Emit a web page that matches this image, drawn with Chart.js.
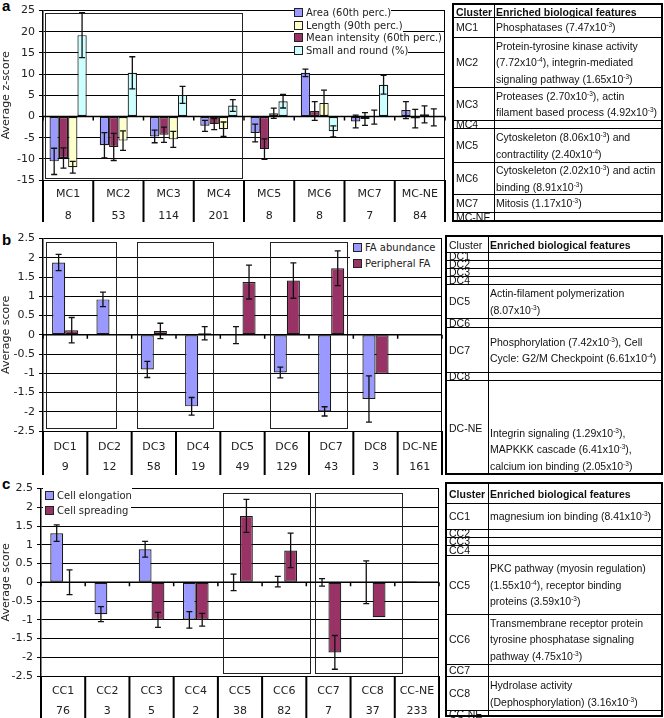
<!DOCTYPE html>
<html>
<head>
<meta charset="utf-8">
<script src="https://cdn.jsdelivr.net/npm/chart.js@4.4.1/dist/chart.umd.min.js"></script>
<style>
  body { margin: 0; width: 664px; height: 718px; position: relative; overflow: hidden; background: #fff; }
  canvas { position: absolute; left: 0; }
  .tag { position: absolute; left: 2px; font: bold 15px "Liberation Sans", Arial, sans-serif; line-height: 15px; }
  .legend { position: absolute; font: 10px "DejaVu Sans", sans-serif; color: #222; }
  .legend .row { display: flex; align-items: center; white-space: nowrap; }
  .legend .sw { width: 7px; height: 7px; border: 1px solid #222; margin-right: 3px; }
  .tbl { position: absolute; box-sizing: border-box; border: 2px solid #000; font: 10.5px "Liberation Sans", Arial, sans-serif; color: #111; }
  .tbl .r { position: absolute; left: 0; right: 0; box-sizing: border-box; }
  .tbl .c1, .tbl .c2 { position: absolute; top: 0; bottom: 0; display: flex; align-items: center; white-space: nowrap; padding-left: 2px; box-sizing: border-box; }
  .tbl .c2 { right: 0; border-left: 1.5px solid #000; padding-left: 1px; }
  .tbl .low { align-items: flex-end; padding-bottom: 1px; }
  .tbl sup { font-size: 6.5px; line-height: 0; vertical-align: 4px; }
</style>
</head>
<body>
<div class="tag" style="top:-2px">a</div>
<div class="tag" style="top:232px">b</div>
<div class="tag" style="top:476px">c</div>
<canvas id="chartA" width="450" height="226" style="top:0"></canvas>
<canvas id="chartB" width="450" height="250" style="top:228px"></canvas>
<canvas id="chartC" width="450" height="240" style="top:478px"></canvas>
<script>
// ---------- panel a : morphology clusters ----------
const clustersA = ['MC1', 'MC2', 'MC3', 'MC4', 'MC5', 'MC6', 'MC7', 'MC-NE'];
const countsA = ['8', '53', '114', '201', '8', '8', '7', '84'];
const areaA = [-10.6, -6.8, -4.7, -2.2, -3.9, 10.3, -1.2, 1.5];
const areaErrA = [3.1, 3.0, 1.5, 1.3, 2.1, 0.9, 1.5, 2.0];
const lengthA = [-12.0, -5.7, -5.4, -3.0, 0.75, 3.2, -0.15, 0.5];
const lengthErrA = [1.4, 2.3, 1.9, 1.7, 1.2, 3.0, 1.65, 2.0];
const intensityA = [-9.8, -7.2, -4.3, -1.8, -7.7, 1.3, -0.6, -0.5];
const intensityErrA = [2.4, 3.2, 1.8, 1.3, 2.4, 2.2, 1.5, 2.2];
const roundA = [19.2, 10.3, 5.1, 2.6, 3.6, -3.5, 7.5, -0.2];
const roundErrA = [5.3, 3.8, 2.0, 1.4, 1.6, 1.3, 2.2, 2.0];

// ---------- panel b : focal adhesion clusters ----------
const clustersB = ['DC1', 'DC2', 'DC3', 'DC4', 'DC5', 'DC6', 'DC7', 'DC8', 'DC-NE'];
const countsB = ['9', '12', '58', '19', '49', '129', '43', '3', '161'];
const faB = [1.88, 0.92, -0.9, -1.86, -0.01, -0.98, -1.99, -1.67, 0];
const faErrB = [0.21, 0.19, 0.21, 0.23, 0.22, 0.14, 0.12, 0.6, 0];
const periB = [0.12, null, 0.1, 0.04, 1.37, 1.41, 1.73, -1.01, 0.02];
const periErrB = [0.33, 0, 0.2, 0.17, 0.44, 0.46, 0.45, 0, 0];

// ---------- panel c : cell shape clusters ----------
const clustersC = ['CC1', 'CC2', 'CC3', 'CC4', 'CC5', 'CC6', 'CC7', 'CC8', 'CC-NE'];
const countsC = ['76', '3', '5', '2', '38', '82', '7', '37', '233'];
const elongC = [1.31, -0.85, 0.88, -1.0, 0, 0.02, 0, 0, 0.03];
const elongErrC = [0.22, 0.2, 0.21, 0.22, 0.22, 0.14, 0.1, 0.57, 0];
const spreadC = [0, null, -1.0, -1.0, 1.77, 0.85, -1.87, -0.93, 0];
const spreadErrC = [0.33, 0, 0.2, 0.17, 0.44, 0.46, 0.45, 0, 0];

// enriched features tables (^-n marks the exponent)
const featuresA = [
  'Phosphatases (7.47x10^-3)',
  'Protein-tyrosine kinase activity\n(7.72x10^-4), integrin-mediated\nsignaling pathway (1.65x10^-3)',
  'Proteases (2.70x10^-3), actin\nfilament based process (4.92x10^-3)',
  '',
  'Cytoskeleton (8.06x10^-3) and\ncontractility (2.40x10^-4)',
  'Cytoskeleton (2.02x10^-3) and actin\nbinding (8.91x10^-3)',
  'Mitosis (1.17x10^-3)',
  ''
];
const featuresB = [
  '', '', '', '',
  'Actin-filament polymerization\n(8.07x10^-3)',
  '',
  'Phosphorylation (7.42x10^-3), Cell\nCycle: G2/M Checkpoint (6.61x10^-4)',
  '',
  'Integrin signaling (1.29x10^-3),\nMAPKKK cascade (6.41x10^-3),\ncalcium ion binding (2.05x10^-3)'
];
const featuresC = [
  'magnesium ion binding (8.41x10^-3)',
  '', '', '',
  'PKC pathway (myosin regulation)\n(1.55x10^-4), receptor binding\nproteins (3.59x10^-3)',
  'Transmembrane receptor protein\ntyrosine phosphatase signaling\npathway (4.75x10^-3)',
  '',
  'Hydrolase activity\n(Dephosphorylation) (3.16x10^-3)',
  ''
];

const BLUE = '#9999FF', YELLOW = '#FFFFCC', PLUM = '#993366', CYAN = '#CCFFFF';

// boxes, error bars, zero axis and the category table lines
const frame = {
  id: 'frame',
  beforeDatasetsDraw(chart, args, o) {
    const { ctx, scales: { x, y } } = chart;
    ctx.save();
    ctx.strokeStyle = '#222';
    ctx.lineWidth = 1;
    (o.boxes || []).forEach(b => {
      const l = Math.round(x.getPixelForValue(b[0])) + 0.5, r = Math.round(x.getPixelForValue(b[1])) + 0.5;
      const t = Math.round(y.getPixelForValue(b[2])) + 0.5, bt = Math.round(y.getPixelForValue(b[3])) + 0.5;
      ctx.strokeRect(l, t, r - l, bt - t);
    });
    ctx.restore();
  },
  afterDatasetsDraw(chart, args, o) {
    const { ctx, chartArea: a, scales: { x, y } } = chart;
    ctx.save();
    ctx.strokeStyle = '#111';
    ctx.lineWidth = 1.3;
    chart.data.datasets.forEach((ds, i) => {
      chart.getDatasetMeta(i).data.forEach((bar, j) => {
        const v = ds.data[j], e = ds.err[j];
        if (v === null || !e) return;
        const y1 = y.getPixelForValue(v + e), y2 = y.getPixelForValue(v - e);
        ctx.beginPath();
        ctx.moveTo(bar.x, y1); ctx.lineTo(bar.x, y2);
        ctx.moveTo(bar.x - 3, y1); ctx.lineTo(bar.x + 3, y1);
        ctx.moveTo(bar.x - 3, y2); ctx.lineTo(bar.x + 3, y2);
        ctx.stroke();
      });
    });
    const y0 = y.getPixelForValue(0);
    ctx.strokeStyle = '#000';
    ctx.lineWidth = 1.5;
    ctx.beginPath();
    ctx.moveTo(a.left, y0); ctx.lineTo(a.right, y0);
    const n = x.getLabels().length;
    for (let i = 0; i <= n; i++) {
      const px = x.getPixelForValue(i - 0.5);
      ctx.moveTo(px, y0); ctx.lineTo(px, y0 + 4);
    }
    ctx.stroke();
    ctx.lineWidth = 2;
    ctx.beginPath();
    for (let i = 0; i <= n; i++) {
      const px = x.getPixelForValue(i - 0.5);
      ctx.moveTo(px, a.bottom); ctx.lineTo(px, a.bottom + o.tableH);
    }
    ctx.stroke();
    ctx.lineWidth = 1;
    ctx.beginPath();
    ctx.moveTo(a.right - 0.5, a.top); ctx.lineTo(a.right - 0.5, a.bottom);
    ctx.stroke();
    ctx.restore();
  }
};

function makeChart(id, labels, counts, series, o) {
  const font = { family: 'DejaVu Sans', size: 11 };
  return new Chart(document.getElementById(id), {
    type: 'bar',
    data: {
      labels: labels.map((l, i) => [l, counts[i]]),
      datasets: series.map(s => ({
        label: s.name,
        data: s.data,
        err: s.err,
        backgroundColor: s.color,
        borderColor: '#1a1a1a',
        borderWidth: 1.2,
        borderSkipped: false,
        categoryPercentage: o.cat,
        barPercentage: 1
      }))
    },
    options: {
      responsive: false,
      animation: false,
      layout: { padding: o.pad },
      plugins: {
        legend: { display: false },
        tooltip: { enabled: false },
        frame: { boxes: o.boxes, tableH: o.xh }
      },
      scales: {
        x: {
          grid: { display: false, drawTicks: false },
          border: { display: false },
          ticks: {
            font: { family: 'DejaVu Sans', size: 11, lineHeight: o.lh },
            color: '#222',
            padding: o.tpad,
            maxRotation: 0,
            autoSkip: false
          },
          afterFit: s => { s.height = o.xh; }
        },
        y: {
          min: o.min,
          max: o.max,
          ticks: { stepSize: o.step, font: font, color: '#222', padding: 4, callback: v => String(+v.toFixed(1)) },
          grid: { color: '#000', lineWidth: 1, tickLength: 4, tickColor: '#000' },
          border: { color: '#000', width: 1.5 },
          title: { display: true, text: o.title, font: font, color: '#222', padding: 0 },
          afterFit: s => { s.width = o.yw; }
        }
      }
    },
    plugins: [frame]
  });
}

const seriesA = [
  { name: 'Area (60th perc.)', data: areaA, err: areaErrA, color: BLUE },
  { name: 'Length (90th perc.)', data: lengthA, err: lengthErrA, color: YELLOW },
  { name: 'Mean intensity (60th perc.)', data: intensityA, err: intensityErrA, color: PLUM },
  { name: 'Small and round (%)', data: roundA, err: roundErrA, color: CYAN }
];
const seriesB = [
  { name: 'FA abundance', data: faB, err: faErrB, color: BLUE },
  { name: 'Peripheral FA', data: periB, err: periErrB, color: PLUM }
];
const seriesC = [
  { name: 'Cell elongation', data: elongC, err: elongErrC, color: BLUE },
  { name: 'Cell spreading', data: spreadC, err: spreadErrC, color: PLUM }
];

// bars in panel a are drawn area, intensity, length, round
makeChart('chartA', clustersA, countsA, [seriesA[0], seriesA[2], seriesA[1], seriesA[3]], {
  pad: { top: 6, left: 0, right: 5, bottom: 4 }, xh: 42, yw: 43, lh: 2, tpad: 3,
  min: -15, max: 25, step: 5, cat: 0.74, title: 'Average z-score',
  boxes: [[-0.46, 3.46, 24.5, -14.5]]
});
makeChart('chartB', clustersB, countsB, seriesB, {
  pad: { top: 8, left: 0, right: 8, bottom: 3 }, xh: 44, yw: 43, lh: 20 / 11, tpad: 6,
  min: -2.5, max: 2.5, step: 0.5, cat: 0.59, title: 'Average score',
  boxes: [[-0.44, 1.14, 2.42, -2.43], [1.61, 3.33, 2.42, -2.43], [4.62, 6.35, 2.42, -2.43]]
});
makeChart('chartC', clustersC, countsC, seriesC, {
  pad: { top: 7, left: 0, right: 11, bottom: 0 }, xh: 42, yw: 41, lh: 20 / 11, tpad: 5,
  min: -2.5, max: 2.5, step: 0.5, cat: 0.58, title: 'Average score',
  boxes: [[3.62, 5.59, 2.39, -2.43], [5.70, 7.67, 2.39, -2.43]]
});

function addLegend(box, rowH, items) {
  const d = document.createElement('div');
  d.className = 'legend';
  d.style.left = box.left + 'px';
  d.style.top = box.top + 'px';
  if (box.width) {
    d.style.width = box.width + 'px';
    d.style.height = box.height + 'px';
    d.style.background = '#fff';
    d.style.paddingLeft = box.pad + 'px';
    d.style.boxSizing = 'border-box';
  }
  items.forEach(s => {
    const r = document.createElement('div');
    r.className = 'row';
    r.style.height = rowH + 'px';
    r.style.width = 'max-content';
    r.style.background = '#fff';
    r.innerHTML = '<span class="sw" style="background:' + s.color + '"></span><span>' + s.name + '</span>';
    d.appendChild(r);
  });
  document.body.appendChild(d);
}
addLegend({ left: 294, top: 6 }, 12.8, seriesA);
addLegend({ left: 350, top: 239, width: 91, height: 33, pad: 3 }, 16, seriesB);
addLegend({ left: 43, top: 488, width: 88, height: 30, pad: 2 }, 14.7, seriesC);

function fmt(s) {
  return s.replace(/\^(-\d)/g, '<sup>$1</sup>').replace(/\n/g, '<br>');
}
function addTable(box, bounds, lineH, head, clusters, feats, lowRows) {
  const t = document.createElement('div');
  t.className = 'tbl';
  t.style.left = box.left + 'px';
  t.style.top = bounds[0] + 'px';
  t.style.width = box.width + 'px';
  t.style.height = (bounds[bounds.length - 1] - bounds[0]) + 'px';
  t.style.lineHeight = lineH + 'px';
  const rows = [head].concat(clusters.map((c, i) => [c, fmt(feats[i])]));
  rows.forEach((r, i) => {
    const d = document.createElement('div');
    d.className = 'r';
    d.style.top = (bounds[i] - bounds[0] - (i ? 2 : 0)) + 'px';
    d.style.height = (bounds[i + 1] - bounds[i]) + 'px';
    if (i) d.style.borderTop = (i === 1 ? 1.5 : 1) + 'px solid #000';
    const low = lowRows && lowRows.includes(i - 1) ? ' low' : '';
    d.innerHTML = '<div class="c1" style="width:' + box.split + 'px"><span>' + r[0] + '</span></div>' +
      '<div class="c2' + low + '" style="left:' + box.split + 'px"><span>' + r[1] + '</span></div>';
    t.appendChild(d);
  });
  document.body.appendChild(t);
}
addTable({ left: 452, width: 211, split: 40 }, [3, 17, 37, 87, 120, 128, 162, 194, 212, 222], 16.5,
  ['<b>Cluster</b>', '<b>Enriched biological features</b>'], clustersA, featuresA);
addTable({ left: 445, width: 218, split: 41 }, [235, 252, 260, 268, 276, 284, 318, 327, 372, 380, 475], 16.5,
  ['Cluster', '<b>Enriched biological features</b>'], clustersB, featuresB, [8]);
addTable({ left: 445, width: 218, split: 41 }, [482, 503, 529, 537, 545, 555, 614, 664, 676, 710, 717], 16.5,
  ['<b>Cluster</b>', '<b>Enriched biological features</b>'], clustersC, featuresC);
</script>
</body>
</html>
